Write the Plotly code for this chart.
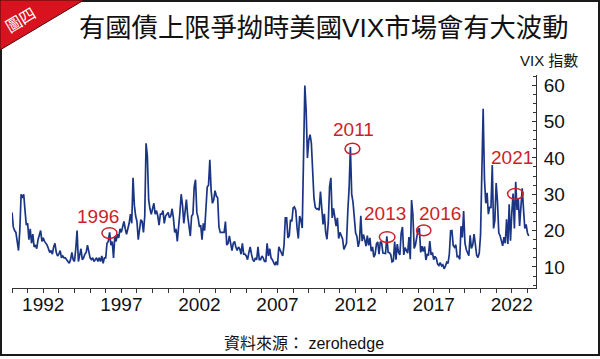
import plotly.graph_objects as go

# ---- data (monthly VIX) ----
start_year = 1990
vix_1990 = [25.0, 21.0, 20.0, 19.5, 17.0, 14.5, 20.0, 30.0, 29.0, 30.0, 25.5, 21.5]
vix_1991 = [22.0, 17.5, 20.5, 16.5, 19.0, 15.5, 16.0, 15.0, 17.5, 18.5, 20.0, 17.0]
vix_1992 = [18.0, 17.0, 16.5, 16.0, 15.0, 14.0, 14.5, 13.5, 15.5, 16.5, 14.0, 13.0]
vix_1993 = [13.5, 14.5, 12.5, 13.0, 12.5, 12.5, 12.0, 11.5, 11.0, 12.0, 14.0, 12.0]
vix_1994 = [11.5, 15.0, 20.0, 11.5, 13.5, 15.0, 12.0, 12.5, 13.5, 14.0, 16.0, 14.5]
vix_1995 = [12.5, 12.0, 12.5, 11.5, 12.0, 12.5, 11.5, 12.5, 11.5, 13.0, 11.0, 12.5]
vix_1996 = [12.5, 16.5, 17.0, 19.5, 16.0, 17.0, 12.5, 18.5, 17.0, 19.0, 18.0, 20.5]
vix_1997 = [19.5, 21.0, 22.5, 20.5, 19.0, 20.5, 22.0, 24.5, 22.0, 34.5, 27.0, 24.0]
vix_1998 = [22.5, 17.5, 21.0, 23.0, 22.5, 19.5, 24.0, 44.0, 40.5, 28.5, 26.0, 24.5]
vix_1999 = [26.0, 27.5, 24.5, 25.5, 24.0, 21.5, 24.5, 24.5, 25.5, 22.0, 24.0, 24.5]
vix_2000 = [25.0, 23.5, 24.0, 26.0, 23.5, 19.5, 20.5, 17.0, 20.5, 25.0, 30.0, 27.0]
vix_2001 = [22.0, 26.5, 28.5, 24.0, 21.5, 18.5, 24.0, 24.5, 32.0, 34.0, 25.0, 23.5]
vix_2002 = [21.0, 21.5, 17.5, 22.0, 20.0, 25.5, 32.0, 32.5, 39.5, 31.0, 27.5, 28.5]
vix_2003 = [31.0, 29.5, 29.0, 21.0, 19.5, 19.5, 19.5, 19.5, 22.5, 16.0, 16.5, 18.5]
vix_2004 = [16.5, 14.5, 16.5, 17.0, 15.5, 14.5, 15.5, 15.0, 13.5, 16.5, 13.5, 13.5]
vix_2005 = [13.0, 12.0, 14.0, 15.5, 13.5, 12.0, 11.5, 12.5, 12.0, 15.5, 12.0, 12.0]
vix_2006 = [13.0, 12.5, 11.5, 11.5, 16.5, 13.0, 15.0, 12.5, 12.0, 11.0, 10.5, 11.5]
vix_2007 = [10.5, 15.5, 14.5, 14.0, 13.0, 16.0, 23.5, 23.5, 18.0, 18.5, 23.0, 22.5]
vix_2008 = [26.2, 26.5, 25.6, 20.8, 17.8, 24.0, 22.9, 20.7, 39.4, 59.9, 53.0, 40.0]
vix_2009 = [44.8, 46.4, 44.1, 36.5, 28.9, 26.4, 25.9, 26.0, 25.6, 30.7, 24.5, 21.7]
vix_2010 = [24.6, 19.5, 17.6, 22.1, 32.1, 34.5, 23.5, 26.1, 23.7, 21.2, 23.5, 17.8]
vix_2011 = [19.5, 18.4, 17.7, 14.8, 15.5, 16.5, 25.3, 31.6, 43.0, 30.0, 27.8, 23.4]
vix_2012 = [19.4, 18.4, 15.5, 17.2, 24.1, 17.1, 18.9, 17.5, 15.7, 18.6, 15.9, 18.0]
vix_2013 = [14.3, 15.5, 12.7, 13.5, 16.3, 16.9, 13.5, 17.0, 16.6, 13.8, 13.7, 13.7]
vix_2014 = [18.4, 14.0, 13.9, 13.4, 11.4, 11.6, 17.0, 12.0, 16.3, 14.0, 13.3, 19.2]
vix_2015 = [21.0, 13.3, 15.3, 14.6, 13.8, 18.2, 12.1, 28.4, 24.5, 15.1, 16.1, 18.2]
vix_2016 = [20.2, 20.6, 14.0, 15.7, 14.2, 15.6, 11.9, 13.4, 13.3, 17.1, 13.3, 14.0]
vix_2017 = [12.0, 12.9, 12.4, 10.8, 10.4, 11.2, 10.3, 10.6, 9.5, 10.2, 11.3, 11.0]
vix_2018 = [13.5, 19.9, 20.0, 15.9, 15.4, 16.1, 12.8, 12.9, 12.1, 21.2, 18.1, 25.4]
vix_2019 = [16.6, 14.8, 13.7, 13.1, 18.7, 15.1, 16.1, 19.0, 16.2, 13.2, 12.6, 13.8]
vix_2020 = [18.8, 40.1, 53.5, 34.2, 27.5, 30.4, 24.5, 26.4, 26.4, 38.0, 20.6, 22.8]
vix_2021 = [33.1, 28.0, 19.4, 18.6, 16.8, 15.8, 18.2, 16.5, 23.1, 16.3, 27.2, 17.2]
vix_2022 = [24.8, 30.2, 20.6, 33.4, 25.7, 28.7, 21.3, 25.9, 31.6, 25.9, 20.6, 21.7]
vix_2023 = [19.4, 18.5]

years_data = [vix_1990, vix_1991, vix_1992, vix_1993, vix_1994, vix_1995, vix_1996,
              vix_1997, vix_1998, vix_1999, vix_2000, vix_2001, vix_2002, vix_2003,
              vix_2004, vix_2005, vix_2006, vix_2007, vix_2008, vix_2009, vix_2010,
              vix_2011, vix_2012, vix_2013, vix_2014, vix_2015, vix_2016, vix_2017,
              vix_2018, vix_2019, vix_2020, vix_2021, vix_2022, vix_2023]

x_tick_vals = [1992, 1997, 2002, 2007, 2012, 2017, 2022]
x_tick_text = ["1992", "1997", "2002", "2007", "2012", "2017", "2022"]
y_tick_vals = [10, 20, 30, 40, 50, 60]

# highlighted episodes: label, label position, circle (x0, x1, y0, y1)
mark_labels = ["1996", "2011", "2013", "2016", "2021"]
mark_label_x = [1995.52, 2011.88, 2013.90, 2017.40, 2022.0]
mark_label_y = [23.9, 47.7, 24.6, 24.6, 40.1]
circle_x0 = [1995.76, 2011.32, 2013.52, 2015.90, 2021.73]
circle_x1 = [1996.72, 2012.27, 2014.52, 2016.82, 2022.73]
circle_y0 = [17.8, 41.0, 16.7, 18.6, 28.6]
circle_y1 = [20.8, 44.0, 19.7, 21.5, 31.6]

title_text = "有國債上限爭拗時美國VIX市場會有大波動"
unit_text = "VIX 指數"
source_text = "資料來源： zerohedge"
badge_text = "圖四"

# ---- build series ----
xs, ys = [], []
for i, yr in enumerate(years_data):
    for m, v in enumerate(yr):
        xs.append(start_year + i + m / 12.0)
        ys.append(v)

W, H = 600, 359
ML, MR, MT, MB = 12, 64, 75, 71
PW, PH = W - ML - MR, H - MT - MB

def px(x):
    return (x - ML) / PW

def py(y):
    return (H - MB - y) / PH

NUM = "Liberation Sans, Arial, Noto Sans CJK TC, sans-serif"
CJK = "Liberation Sans, Noto Sans CJK TC, sans-serif"
RED = "#cc1f2a"

fig = go.Figure()
fig.add_trace(go.Scatter(x=xs, y=ys, mode="lines",
                         line=dict(color="#1b3585", width=1.7),
                         hoverinfo="skip", showlegend=False))

shapes = []
# frame
shapes.append(dict(type="rect", xref="paper", yref="paper",
                   x0=px(1), x1=px(599), y0=py(355), y1=py(1),
                   line=dict(color="#1a1a1a", width=2), layer="above"))
# red corner badge
shapes.append(dict(type="path", xref="paper", yref="paper",
                   path=f"M {px(0)},{py(0)} L {px(84)},{py(0)} L {px(0)},{py(50)} Z",
                   fillcolor="#d8121f", line=dict(color="#4a0a0a", width=1), layer="above"))
# circles
for a, b, c, d in zip(circle_x0, circle_x1, circle_y0, circle_y1):
    shapes.append(dict(type="circle", xref="x", yref="y", x0=a, x1=b, y0=c, y1=d,
                       line=dict(color=RED, width=1.5)))

annotations = []
for t, ax_, ay_ in zip(mark_labels, mark_label_x, mark_label_y):
    annotations.append(dict(text=t, x=ax_, y=ay_, xref="x", yref="y", showarrow=False,
                            font=dict(family=NUM, size=19, color=RED),
                            xanchor="center", yanchor="middle"))
annotations.append(dict(text=title_text, x=px(323), y=py(28), xref="paper", yref="paper",
                        showarrow=False, xanchor="center", yanchor="middle",
                        font=dict(family=CJK, size=26.3, color="#111111")))
annotations.append(dict(text=unit_text, x=px(549), y=py(61), xref="paper", yref="paper",
                        showarrow=False, xanchor="center", yanchor="middle",
                        font=dict(family=CJK, size=15, color="#111111")))
annotations.append(dict(text=source_text, x=px(304), y=py(343), xref="paper", yref="paper",
                        showarrow=False, xanchor="center", yanchor="middle",
                        font=dict(family=CJK, size=16, color="#111111")))
annotations.append(dict(text=badge_text, x=px(20), y=py(19), xref="paper", yref="paper",
                        showarrow=False, xanchor="center", yanchor="middle", textangle=-31,
                        font=dict(family="Noto Sans CJK TC, sans-serif", size=16, color="white")))

fig.update_layout(
    width=W, height=H,
    margin=dict(l=ML, r=MR, t=MT, b=MB, pad=0),
    paper_bgcolor="white", plot_bgcolor="white",
    shapes=shapes, annotations=annotations,
    showlegend=False,
    xaxis=dict(range=[1990.0, 2023.55], tickvals=x_tick_vals, ticktext=x_tick_text,
               showgrid=False, zeroline=False, showline=True, linecolor="#333333", linewidth=1,
               ticks="outside", ticklen=4, tickcolor="#333333", ticklabelstandoff=-5,
               minor=dict(dtick=1, tick0=1990, ticks="outside", ticklen=4, tickcolor="#333333", showgrid=False),
               tickfont=dict(family=NUM, size=19, color="#111111")),
    yaxis=dict(range=[4.2, 62.8], side="right", tickvals=y_tick_vals,
               showgrid=False, zeroline=False, showline=True, linecolor="#333333", linewidth=1,
               ticks="inside", ticklen=4, tickcolor="#333333", ticklabelstandoff=3,
               minor=dict(dtick=2.5, tick0=0, ticks="inside", ticklen=3, tickcolor="#333333", showgrid=False),
               tickfont=dict(family=NUM, size=19, color="#111111")),
)

fig.write_html("out.html", config={"displayModeBar": False},
               post_script="document.body.style.margin='0';document.body.style.overflow='hidden';")
